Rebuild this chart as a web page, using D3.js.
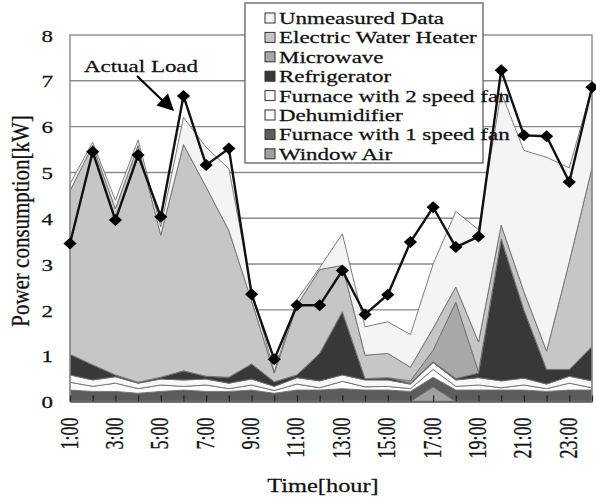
<!DOCTYPE html>
<html lang="en">
<head>
    <meta charset="UTF-8">
    <title>Power consumption by appliance</title>
    <script src="https://d3js.org/d3.v7.min.js"></script>
    <style>
        body { margin: 0; background: #fff; }
        text { font-family: "Liberation Serif", "Times New Roman", serif; fill: #111; stroke: #111; stroke-width: 0.25px; }
    </style>
</head>
<body>
    <svg class="chart"></svg>
    <script>
        // hours of the day (1:00 .. 24:00)
        var hours = d3.range(1, 25);
        var tickHours = [1, 3, 5, 7, 9, 11, 13, 15, 17, 19, 21, 23];
        var yTicks = [0, 1, 2, 3, 4, 5, 6, 7, 8];

        // appliance loads in kW
        var windowAir   = [0, 0, 0, 0, 0, 0, 0, 0, 0, 0, 0, 0, 0, 0, 0, 0, 0.32, 0, 0, 0, 0, 0, 0, 0];
        var furnace1    = [.25, .22, .22, .18, .22, .25, .22, .22, .25, .18, .25, .25, .28, .25, .25, .22, .21, .25, .25, .25, .25, .22, .25, .25];
        var dehumidifier= [.17, .11, .18, .10, .14, .08, .14, .06, .11, .06, .13, .05, .16, .07, .08, .06, .17, .08, .11, .05, .11, .06, .15, .05];
        var furnace2    = [.16, .14, .14, .12, .13, .14, .13, .12, .13, .09, .14, .15, .14, .15, .14, .10, .15, .14, .16, .15, .15, .10, .15, .15];
        var fridge      = [.45, .33, .04, .02, .04, .20, .06, .13, .33, .10, .06, .60, 1.38, .03, .05, .02, .02, .03, .10, 3.10, 1.49, .32, .15, .75];
        var microwave   = [0, 0, 0, 0, 0, 0, 0, 0, 0, 0, 0, 0, 0, 0, 0, .05, .25, 1.67, .03, 0, 0, 0, 0, 0];
        var waterHeater = [3.57, 4.79, 3.63, 5.17, 3.10, 4.94, 4.13, 3.20, 1.38, .19, 1.52, 1.83, 1.01, .51, .53, .30, .48, .33, .65, .30, .40, .40, 2.35, 3.90];
        var unmeasured  = [.15, .07, .18, .12, .18, .59, .87, 1.35, .25, .03, .12, .04, .69, .62, .69, .71, 1.40, 1.65, 2.45, 2.90, 3.08, 4.23, 2.05, 1.76];
        var actualLoad  = [3.45, 5.45, 3.96, 5.38, 4.03, 6.67, 5.16, 5.52, 2.34, 0.92, 2.10, 2.10, 2.86, 1.90, 2.33, 3.48, 4.24, 3.37, 3.60, 7.23, 5.81, 5.79, 4.79, 6.86];

        // stacking order, bottom to top
        var keys = ['Window Air', 'Furnace with 1 speed fan', 'Dehumidifier', 'Furnace with 2 speed fan',
                    'Refrigerator', 'Microwave', 'Electric Water Heater', 'Unmeasured Data'];
        var seriesData = [windowAir, furnace1, dehumidifier, furnace2, fridge, microwave, waterHeater, unmeasured];
        var colors = ['#a0a0a0', '#5c5c5c', '#ffffff', '#f8f8f8', '#383838', '#a8a8a8', '#c6c6c6', '#f4f4f4'];

        var rows = hours.map(function (h, i) {
            var r = { hour: h };
            keys.forEach(function (k, j) { r[k] = seriesData[j][i]; });
            return r;
        });

        var W = 596, H = 499;
        var SX = 1.35; // the original text is horizontally stretched
        var svg = d3.select('.chart').attr('width', W).attr('height', H);

        var x = d3.scaleLinear().domain([1, 24]).range([70, 592]);
        var y = d3.scaleLinear().domain([0, 8]).range([401.5, 35]);

        // grid lines
        svg.append('g').selectAll('line')
           .data(yTicks.slice(1, 8))
           .join('line')
           .attr('x1', x(1)).attr('x2', x(24))
           .attr('y1', d => y(d)).attr('y2', d => y(d))
           .attr('stroke', '#8a8a8a').attr('stroke-width', 1.4);

        // stacked areas
        var stack = d3.stack().keys(keys);
        var layers = stack(rows);
        var area = d3.area()
                     .x(d => x(d.data.hour))
                     .y0(d => y(d[0]))
                     .y1(d => y(d[1]));

        svg.append('g').selectAll('path')
           .data(layers)
           .join('path')
           .attr('d', area)
           .attr('fill', (d, i) => colors[i])
           .attr('stroke', '#6e6e6e')
           .attr('stroke-width', 0.9);

        // plot frame
        svg.append('rect')
           .attr('x', x(1)).attr('y', y(8))
           .attr('width', x(24) - x(1)).attr('height', y(0) - y(8))
           .attr('fill', 'none').attr('stroke', '#8a8a8a').attr('stroke-width', 1.4);

        // x axis with inward ticks
        var xAxis = svg.append('g')
           .attr('transform', 'translate(0,' + y(0) + ')')
           .call(d3.axisBottom(x).tickValues(hours).tickSizeInner(-6).tickSizeOuter(0)
                   .tickFormat(d => tickHours.indexOf(d) >= 0 ? d + ':00' : ''));
        xAxis.select('.domain').attr('stroke', '#555').attr('stroke-width', 1.4);
        xAxis.selectAll('.tick line').attr('stroke', '#222').attr('stroke-width', 1.2);
        xAxis.selectAll('.tick text')
             .attr('x', null).attr('y', null).attr('dy', null)
             .attr('text-anchor', 'end')
             .attr('font-size', 18)
             .attr('fill', '#111')
             .attr('font-family', '"Liberation Serif", serif')
             .attr('transform', 'translate(7,16) scale(' + SX + ',1) rotate(-90)');

        // y axis labels
        var yAxis = svg.append('g')
           .attr('transform', 'translate(53,0)')
           .call(d3.axisLeft(y).tickValues(yTicks).tickSize(0).tickPadding(0));
        yAxis.select('.domain').remove();
        yAxis.selectAll('.tick text')
             .attr('x', null).attr('dy', '0.36em')
             .attr('font-size', 17)
             .attr('fill', '#111')
             .attr('font-family', '"Liberation Serif", serif')
             .attr('transform', 'scale(' + SX + ',1)');

        // actual load line + diamonds
        var line = d3.line().x((d, i) => x(hours[i])).y(d => y(d));
        svg.append('path')
           .datum(actualLoad)
           .attr('d', line)
           .attr('fill', 'none')
           .attr('stroke', '#111')
           .attr('stroke-width', 2.4);

        var diamond = d3.symbol().type(d3.symbolSquare).size(72);
        svg.append('g').selectAll('path')
           .data(actualLoad)
           .join('path')
           .attr('d', diamond)
           .attr('transform', (d, i) => 'translate(' + x(hours[i]) + ',' + y(d) + ') scale(1.1,1) rotate(45)')
           .attr('fill', '#000');

        // annotation
        svg.append('text')
           .attr('transform', 'translate(84,72) scale(' + SX + ',1)')
           .attr('font-size', 17)
           .text('Actual Load');

        svg.append('line')
           .attr('x1', 137).attr('y1', 76)
           .attr('x2', 163).attr('y2', 101)
           .attr('stroke', '#000').attr('stroke-width', 2.2);

        svg.append('path')
           .attr('d', 'M174,111 L156.5,105.5 L168,93.5 Z')
           .attr('fill', '#000');

        // legend
        var legend = svg.append('g');
        legend.append('rect')
              .attr('x', 245).attr('y', 3)
              .attr('width', 238).attr('height', 160)
              .attr('fill', '#fff').attr('stroke', '#6a6a6a').attr('stroke-width', 1.4);

        var legendKeys = keys.slice().reverse();
        var legendColors = colors.slice().reverse();
        var items = legend.selectAll('g.item')
              .data(legendKeys)
              .join('g')
              .attr('class', 'item')
              .attr('transform', (d, i) => 'translate(0,' + (18 + i * 19.4) + ')');

        items.append('rect')
             .attr('x', 265).attr('y', -5)
             .attr('width', 10).attr('height', 10)
             .attr('fill', (d, i) => legendColors[i])
             .attr('stroke', '#333').attr('stroke-width', 1);

        items.append('text')
             .attr('transform', 'translate(279,6) scale(' + SX + ',1)')
             .attr('font-size', 17)
             .text(d => d);

        // axis titles
        svg.append('text')
           .attr('transform', 'translate(323,492) scale(1.25,1)')
           .attr('text-anchor', 'middle')
           .attr('font-size', 19.5)
           .text('Time[hour]');

        svg.append('text')
           .attr('transform', 'translate(29,221) scale(1.15,1) rotate(-90)')
           .attr('text-anchor', 'middle')
           .attr('font-size', 21)
           .text('Power consumption[kW]');
    </script>
</body>
</html>
